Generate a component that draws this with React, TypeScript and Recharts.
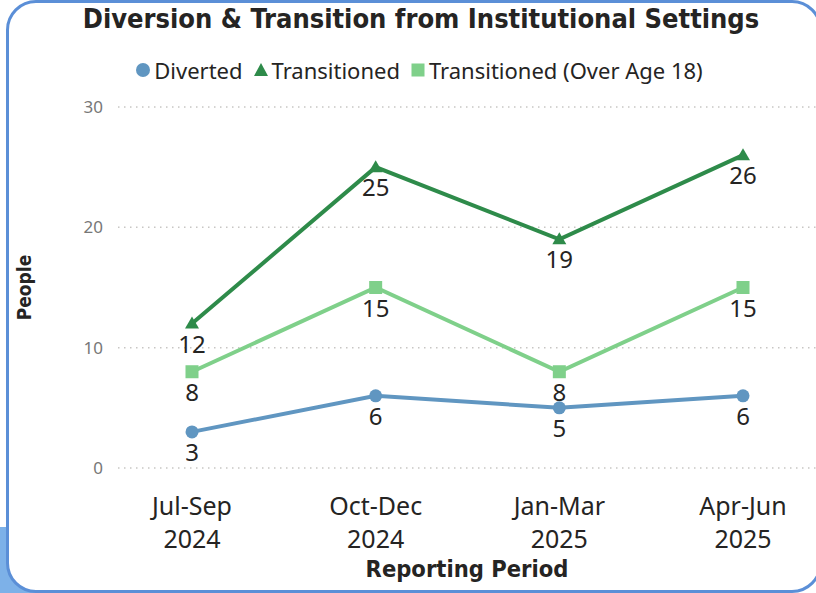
import React from 'react';
import { CartesianGrid, LabelList, Legend, Line, LineChart, XAxis, YAxis } from 'recharts';

const quarters = ['Jul-Sep', 'Oct-Dec', 'Jan-Mar', 'Apr-Jun'];
const years = ['2024', '2024', '2025', '2025'];
const diverted = [3, 6, 5, 6];
const transitioned = [12, 25, 19, 26];
const transitionedOver18 = [8, 15, 8, 15];
const yTicks = [0, 10, 20, 30];

const data = quarters.map((q, i) => ({
  period: `${q}\n${years[i]}`,
  diverted: diverted[i],
  transitioned: transitioned[i],
  over18: transitionedOver18[i],
}));

const BLUE = '#6096c1';
const DARK_GREEN = '#2e8b4a';
const LIGHT_GREEN = '#7fd08a';
const TEXT = '#252423';
const SANS = '"Noto Sans", "Open Sans", sans-serif';
const DIN = '"DejaVu Sans Condensed", "DejaVu Sans", sans-serif';

const W = 816;
const H = 593;

const CircleDot = (props: any) => {
  const { cx, cy, key } = props;
  return <circle key={key} cx={cx} cy={cy} r={6.5} fill={BLUE} />;
};

const TriangleDot = (props: any) => {
  const { cx, cy, key } = props;
  return <path key={key} d={`M${cx},${cy - 7} L${cx + 7},${cy + 5} L${cx - 7},${cy + 5} Z`} fill={DARK_GREEN} />;
};

const SquareDot = (props: any) => {
  const { cx, cy, key } = props;
  return <rect key={key} x={cx - 6.5} y={cy - 6.5} width={13} height={13} fill={LIGHT_GREEN} />;
};

const ValueLabel = (props: any) => {
  const { x, y, value } = props;
  return (
    <text x={x} y={y + 29} textAnchor="middle" fontFamily={SANS} fontSize={24} fill={TEXT}>
      {value}
    </text>
  );
};

const PeriodTick = (props: any) => {
  const { x, y, payload } = props;
  const [line1, line2] = String(payload.value).split('\n');
  return (
    <g>
      <text x={x} y={y + 45} textAnchor="middle" fontFamily={SANS} fontSize={25} fill={TEXT}>
        {line1}
      </text>
      <text x={x} y={y + 78} textAnchor="middle" fontFamily={SANS} fontSize={25} fill={TEXT}>
        {line2}
      </text>
    </g>
  );
};

const legendItems = [
  { label: 'Diverted', shape: 'circle', color: BLUE },
  { label: 'Transitioned', shape: 'triangle', color: DARK_GREEN },
  { label: 'Transitioned (Over Age 18)', shape: 'square', color: LIGHT_GREEN },
];

const LegendIcon = ({ shape, color }: { shape: string; color: string }) => (
  <svg width={16} height={16} style={{ marginRight: 3 }}>
    {shape === 'circle' && <circle cx={8} cy={8} r={7} fill={color} />}
    {shape === 'triangle' && <path d="M8,1 L15,14 L1,14 Z" fill={color} />}
    {shape === 'square' && <rect x={1.5} y={1.5} width={13} height={13} fill={color} />}
  </svg>
);

const renderLegend = () => (
  <div
    style={{
      display: 'flex',
      justifyContent: 'center',
      alignItems: 'center',
      fontFamily: SANS,
      fontSize: 22,
      color: TEXT,
      paddingLeft: 32,
    }}
  >
    {legendItems.map((item) => (
      <div key={item.label} style={{ display: 'flex', alignItems: 'center', marginRight: 10 }}>
        <LegendIcon shape={item.shape} color={item.color} />
        <span>{item.label}</span>
      </div>
    ))}
  </div>
);

export default function App(): React.ReactElement {
  return (
    <div style={{ position: 'absolute', left: 0, top: 0, width: W, height: H, overflow: 'hidden', background: '#fff' }}>
      <div style={{ position: 'absolute', left: 0, top: 527, width: 50, height: 66, background: '#7db1e8' }} />
      <div
        style={{
          position: 'absolute',
          left: 6,
          top: 0,
          width: 816,
          height: 593,
          boxSizing: 'border-box',
          border: '3px solid #5b8fd7',
          borderRadius: 30,
          background: '#fff',
        }}
      />
      <div
        style={{
          position: 'absolute',
          left: 0,
          top: 3,
          width: 842,
          textAlign: 'center',
          fontFamily: DIN,
          fontWeight: 'bold',
          fontSize: 27,
          color: TEXT,
          whiteSpace: 'nowrap',
        }}
      >
        Diversion &amp; Transition from Institutional Settings
      </div>
      <div style={{ position: 'absolute', left: 0, top: 0 }}>
        <LineChart width={W} height={H} data={data} margin={{ top: 107, right: 0, bottom: 0, left: 0 }}>
          <CartesianGrid vertical={false} stroke="#c8c6c4" strokeWidth={1.5} strokeDasharray="1.5 4.5" />
          <XAxis
            dataKey="period"
            axisLine={false}
            tickLine={false}
            tickSize={0}
            height={125}
            padding={{ left: 74, right: 73 }}
            tick={<PeriodTick />}
            interval={0}
            label={{
              content: ({ viewBox }: any) => (
                <text
                  x={viewBox.x + viewBox.width / 2}
                  y={viewBox.y + 109}
                  textAnchor="middle"
                  fontFamily={DIN}
                  fontWeight="bold"
                  fontSize={23.5}
                  fill={TEXT}
                >
                  Reporting Period
                </text>
              ),
            }}
          />
          <YAxis
            domain={[0, 30]}
            ticks={yTicks}
            width={118}
            axisLine={false}
            tickLine={false}
            tickSize={0}
            tickMargin={15}
            tick={{ fontFamily: SANS, fontSize: 17, fill: '#777' }}
            label={{
              content: ({ viewBox }: any) => {
                const cy = viewBox.y + viewBox.height / 2;
                return (
                  <text
                    x={31}
                    y={cy}
                    transform={`rotate(-90, 31, ${cy})`}
                    textAnchor="middle"
                    fontFamily={DIN}
                    fontWeight="bold"
                    fontSize={19}
                    fill={TEXT}
                  >
                    People
                  </text>
                );
              },
            }}
          />
          <Legend
            content={renderLegend}
            layout="horizontal"
            verticalAlign="middle"
            align="center"
            wrapperStyle={{ top: 55, left: 0, width: W }}
          />
          <Line
            dataKey="transitioned"
            name="Transitioned"
            stroke={DARK_GREEN}
            strokeWidth={4}
            dot={TriangleDot}
            activeDot={false}
            isAnimationActive={false}
          >
            <LabelList dataKey="transitioned" content={ValueLabel} />
          </Line>
          <Line
            dataKey="over18"
            name="Transitioned (Over Age 18)"
            stroke={LIGHT_GREEN}
            strokeWidth={4}
            dot={SquareDot}
            activeDot={false}
            isAnimationActive={false}
          >
            <LabelList dataKey="over18" content={ValueLabel} />
          </Line>
          <Line
            dataKey="diverted"
            name="Diverted"
            stroke={BLUE}
            strokeWidth={4}
            dot={CircleDot}
            activeDot={false}
            isAnimationActive={false}
          >
            <LabelList dataKey="diverted" content={ValueLabel} />
          </Line>
        </LineChart>
      </div>
    </div>
  );
}
